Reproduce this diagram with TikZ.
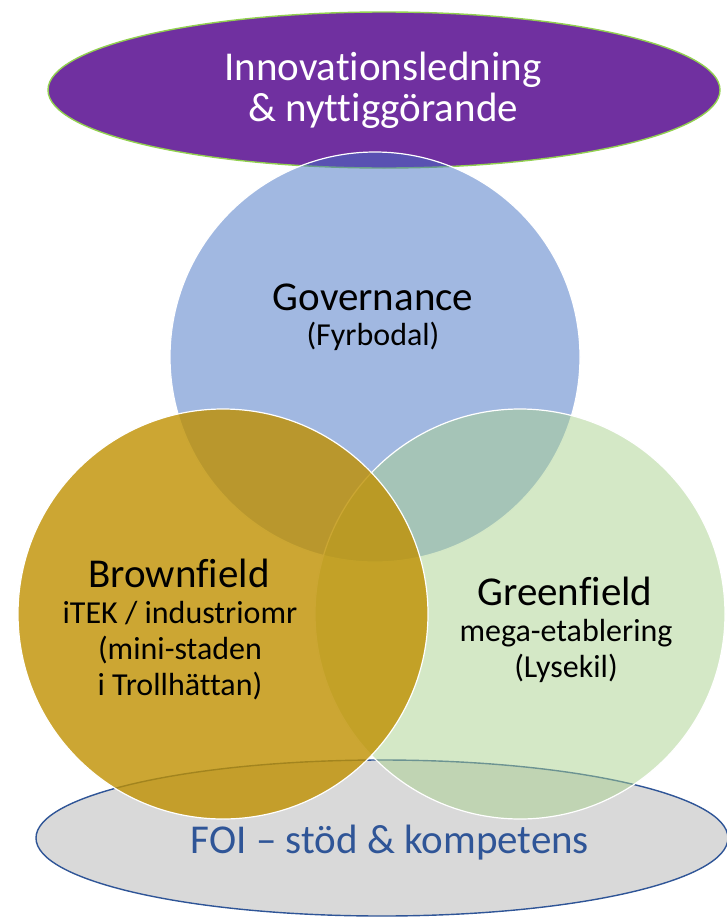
\documentclass[tikz,border=0pt]{standalone}
\usepackage{fontspec}
\setmainfont{Carlito}[Ligatures=NoCommon]
\usetikzlibrary{shapes.geometric}
\definecolor{plum}{HTML}{7030A0}
\definecolor{limeline}{HTML}{92D050}
\definecolor{govblue}{HTML}{4472C4}
\definecolor{brownfill}{HTML}{BF9000}
\definecolor{greenfill}{HTML}{A9D18E}
\definecolor{foigray}{HTML}{D9D9D9}
\definecolor{foiblue}{HTML}{2F5597}
\tikzset{field/.style={circle,draw=white,line width=1.2pt,minimum size=410pt,inner sep=0pt},band/.style={ellipse,line width=1.4pt,inner sep=0pt},title/.style={font=\fontsize{41}{41}\selectfont,anchor=base},sub/.style={font=\fontsize{32}{36}\selectfont,align=center,anchor=base}}

\begin{document}
\begin{tikzpicture}[x=1pt,y=-1pt]
\useasboundingbox (0,0) rectangle (727,918);
% the two bands, then the three fields on top
\node[band,draw=foiblue,fill=foigray,minimum width=692pt,minimum height=156pt] (foi) at (382,838) {};
\node[band,draw=limeline,fill=plum,minimum width=672pt,minimum height=156pt] (innov) at (384,90) {};
\node[field,fill=govblue,fill opacity=.5] (gov) at (375,357) {};
\node[field,fill=greenfill,fill opacity=.5] (green) at (520,614) {};
\node[field,fill=brownfill,fill opacity=.8] (brown) at (223,614) {};
% multi-line texts sit on their last baseline
\node[font=\fontsize{41}{41}\selectfont,text=white,align=center,anchor=base] (innovtxt) at (383,121) {Innovationsledning\\ \& nyttiggörande};
\node[title,text=foiblue] (foitxt) at (390,853) {FOI – stöd \& kompetens};
\node[title] (govtitle) at (373,310) {Governance};
\node[sub] (govsub) at (373,345) {(Fyrbodal)};
\node[title] (browntitle) at (179,587) {Brownfield};
\node[sub] (brownsub) at (180,695) {iTEK / industriomr\\ (mini-staden\\ i Trollhättan)};
\node[title] (greentitle) at (565,605) {Greenfield};
\node[sub] (greensub) at (566,677) {mega-etablering\\ (Lysekil)};
\end{tikzpicture}
\end{document}
